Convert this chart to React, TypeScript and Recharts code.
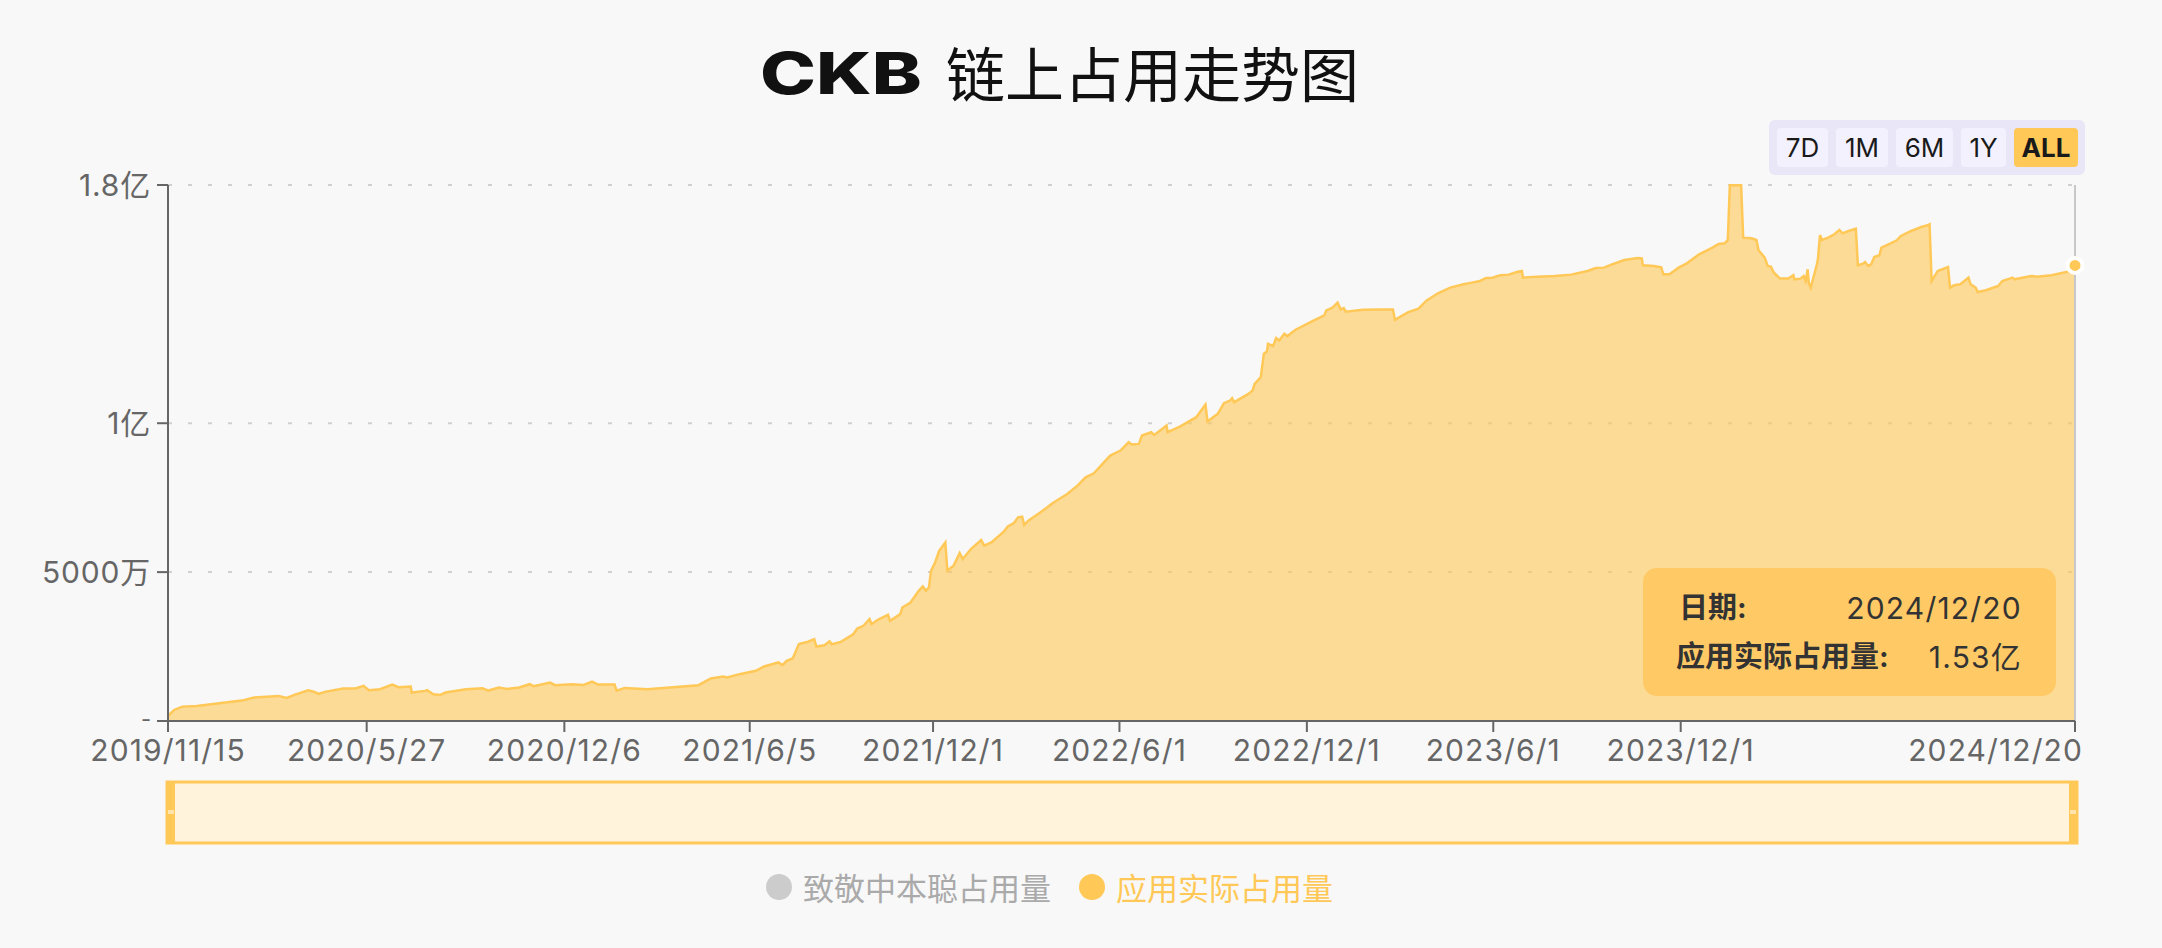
import {
  Area,
  AreaChart,
  Brush,
  CartesianGrid,
  Legend,
  ReferenceDot,
  ReferenceLine,
  XAxis,
  YAxis,
} from 'recharts';

// daily on-chain occupation, sampled at the turning points, value in 万 (1e4)
const dates = [
  '2019/11/15', '2019/11/21', '2019/11/29', '2019/12/13', '2019/12/25',
  '2020/1/10', '2020/1/26', '2020/2/7', '2020/3/2', '2020/3/10', '2020/3/18', '2020/3/31', '2020/4/6', '2020/4/10',
  '2020/4/16', '2020/5/4', '2020/5/16', '2020/5/24', '2020/5/29', '2020/6/9', '2020/6/21', '2020/6/27', '2020/7/9',
  '2020/7/10', '2020/7/23', '2020/7/25', '2020/7/31', '2020/8/7', '2020/8/12', '2020/9/1', '2020/9/17', '2020/9/23',
  '2020/10/3', '2020/10/11', '2020/10/23', '2020/11/2', '2020/11/6', '2020/11/22', '2020/11/27', '2020/12/13', '2020/12/25',
  '2021/1/2', '2021/1/8', '2021/1/24', '2021/1/26', '2021/2/3', '2021/2/25', '2021/3/19', '2021/4/16', '2021/4/28',
  '2021/5/10', '2021/5/14', '2021/5/26', '2021/6/11', '2021/6/19', '2021/7/3', '2021/7/7', '2021/7/11', '2021/7/17',
  '2021/7/23', '2021/8/1', '2021/8/7', '2021/8/9', '2021/8/17', '2021/8/22', '2021/8/24', '2021/9/2', '2021/9/14',
  '2021/9/18', '2021/9/24', '2021/9/30', '2021/10/2', '2021/10/8', '2021/10/18', '2021/10/20', '2021/10/30', '2021/11/1',
  '2021/11/9', '2021/11/17', '2021/11/21', '2021/11/24', '2021/11/27', '2021/11/29', '2021/12/3', '2021/12/7', '2021/12/13',
  '2021/12/15', '2021/12/21', '2021/12/27', '2021/12/30',
  '2022/1/7', '2022/1/17', '2022/1/20', '2022/1/27', '2022/2/8', '2022/2/12', '2022/2/18', '2022/2/22', '2022/2/26',
  '2022/2/28', '2022/3/4', '2022/3/16', '2022/3/28', '2022/4/11', '2022/4/21', '2022/4/29', '2022/5/7', '2022/5/23',
  '2022/6/2', '2022/6/10', '2022/6/13', '2022/6/20', '2022/6/23', '2022/7/2', '2022/7/5', '2022/7/17', '2022/7/18',
  '2022/7/30', '2022/8/15', '2022/8/24', '2022/8/26', '2022/9/5', '2022/9/11', '2022/9/17', '2022/9/19', '2022/9/21',
  '2022/10/5', '2022/10/9', '2022/10/11', '2022/10/17', '2022/10/20', '2022/10/23', '2022/10/24', '2022/10/29', '2022/11/1',
  '2022/11/4', '2022/11/9', '2022/11/12', '2022/11/20', '2022/12/6', '2022/12/18', '2022/12/20', '2022/12/26', '2022/12/31',
  '2023/1/3', '2023/1/6', '2023/1/8', '2023/1/25', '2023/2/10', '2023/2/23', '2023/2/25', '2023/3/10', '2023/3/20',
  '2023/3/28', '2023/4/8', '2023/4/20', '2023/5/3', '2023/5/11', '2023/5/19', '2023/5/25', '2023/5/31', '2023/6/8',
  '2023/6/16', '2023/6/24', '2023/6/29', '2023/6/30', '2023/7/14', '2023/7/31', '2023/8/16', '2023/9/1', '2023/9/9',
  '2023/9/17', '2023/9/25', '2023/10/7', '2023/10/20', '2023/10/24', '2023/10/25', '2023/11/5', '2023/11/12', '2023/11/14',
  '2023/11/20', '2023/11/29', '2023/12/7', '2023/12/19',
  '2024/1/1', '2024/1/7', '2024/1/13', '2024/1/16', '2024/1/18', '2024/1/29', '2024/1/31', '2024/2/8', '2024/2/13',
  '2024/2/15', '2024/2/21', '2024/2/24', '2024/2/27', '2024/3/1', '2024/3/7', '2024/3/15', '2024/3/20', '2024/3/21',
  '2024/3/27', '2024/3/30', '2024/4/1', '2024/4/3', '2024/4/4', '2024/4/6', '2024/4/9', '2024/4/12', '2024/4/13',
  '2024/4/15', '2024/4/17', '2024/4/23', '2024/4/29', '2024/5/4', '2024/5/7', '2024/5/13', '2024/5/20', '2024/5/22',
  '2024/5/27', '2024/5/29', '2024/6/1', '2024/6/4', '2024/6/7', '2024/6/12', '2024/6/14', '2024/6/23', '2024/6/29',
  '2024/7/3', '2024/7/13', '2024/7/23', '2024/7/29', '2024/7/31', '2024/8/2', '2024/8/8', '2024/8/18', '2024/8/20',
  '2024/8/24', '2024/8/30', '2024/9/3', '2024/9/7', '2024/9/9', '2024/9/14', '2024/9/16', '2024/9/24', '2024/10/6',
  '2024/10/10', '2024/10/20', '2024/10/22', '2024/11/7', '2024/11/13', '2024/11/27', '2024/12/14', '2024/12/20',
];

const usage = [
  169, 371, 483, 506, 551,
  618, 685, 787, 843, 775, 888, 1034, 978, 910,
  978, 1090, 1090, 1180, 1034, 1067, 1225, 1135, 1157,
  955, 1011, 1034, 899, 876, 955, 1067, 1101, 1022,
  1124, 1079, 1124, 1236, 1169, 1292, 1202, 1236, 1213,
  1326, 1225, 1225, 1022, 1112, 1067, 1124, 1202, 1427,
  1494, 1461, 1573, 1685, 1831, 1966, 1876, 2022, 2101,
  2584, 2663, 2747, 2500, 2545, 2680, 2579, 2657, 2915,
  3106, 3196, 3420, 3252, 3397, 3565, 3364, 3588, 3812,
  3980, 4373, 4518, 4373, 4485, 5045, 5325, 5718, 5998,
  5045, 5213, 5639, 5438,
  5774, 6076, 5886, 5998, 6357, 6536, 6648, 6839, 6861,
  6581, 6727, 7007, 7321, 7623, 7904, 8184, 8318, 8913,
  9081, 9361, 9283, 9305, 9585, 9697, 9608, 9922, 9697,
  9888, 10202, 10628, 10056, 10314, 10673, 10762, 10841, 10706,
  10986, 11099, 11323, 11547, 12332, 12410, 12668, 12590, 12859,
  12780, 13004, 12926, 13139, 13419, 13621, 13789, 13879, 14047,
  13823, 13867, 13744, 13811, 13823, 13823, 13475, 13733, 13845,
  14125, 14363, 14553, 14665, 14721, 14777, 14878, 14889, 14968,
  14990, 15079, 15113, 14889, 14923, 14945, 14990, 15113, 15214,
  15225, 15337, 15482, 15549, 15538, 15303, 15281, 15236, 15001,
  15001, 15225, 15370, 15672,
  15896, 16019, 16042, 16154, 17990, 17990, 16232, 16210, 16154,
  15807, 15561, 15281, 15259, 15057, 14856, 14856, 14968, 14833,
  14856, 14945, 14777, 15169, 14721, 14553, 14945, 15337, 15505,
  16321, 16154, 16232, 16344, 16489, 16377, 16456, 16534, 15303,
  15359, 15415, 15281, 15337, 15583, 15639, 15896, 16042, 16142,
  16288, 16456, 16590, 16646, 16680, 14777, 15113, 15247, 14553,
  14632, 14665, 14777, 14889, 14665, 14553, 14408, 14464, 14609,
  14777, 14889, 14833, 14945, 14923, 14968, 15100, 15300,
];

const xTickDates = [
  '2019/11/15', '2020/5/27', '2020/12/6', '2021/6/5', '2021/12/1',
  '2022/6/1', '2022/12/1', '2023/6/1', '2023/12/1', '2024/12/20',
];
const yTicks = [0, 5000, 10000, 18000];
const seriesNames = ['致敬中本聪占用量', '应用实际占用量'];
const ranges = ['7D', '1M', '6M', '1Y', 'ALL'];

const FONT = 'Inter, "Noto Sans CJK SC", sans-serif';
const CJK = '"Noto Sans CJK SC", sans-serif';
const YELLOW = '#FFC857';

const toTs = (s: string) => {
  const [y, m, d] = s.split('/').map(Number);
  return Date.UTC(y, m - 1, d);
};
const fmtDate = (ts: number) => {
  const d = new Date(ts);
  return `${d.getUTCFullYear()}/${d.getUTCMonth() + 1}/${d.getUTCDate()}`;
};
const fmtWan = (v: number) => {
  if (v === 0) return '-';
  if (v < 10000) return `${v}万`;
  return `${+(v / 10000).toFixed(2)}亿`;
};

const data = dates.map((d, i) => ({ ts: toTs(d), date: d, usage: usage[i] }));
const last = data[data.length - 1];
const xTicks = xTickDates.map(toTs);

function DateTick(props: any) {
  const { x, y, payload } = props;
  const isLast = payload.value === last.ts;
  return (
    <text
      x={isLast ? x + 8 : x}
      y={y}
      dy="0.71em"
      textAnchor={isLast ? 'end' : 'middle'}
      fill="#666"
      fontSize={30}
      letterSpacing={1.1}
      fontFamily={FONT}
    >
      {fmtDate(payload.value)}
    </text>
  );
}

function ValueTick(props: any) {
  const { x, y, payload } = props;
  const zero = payload.value === 0;
  return (
    <text
      x={x}
      y={zero ? y - 2 : y}
      dy="0.355em"
      textAnchor="end"
      fill="#666"
      fontSize={zero ? 22 : 30}
      letterSpacing={zero ? 0 : 0.8}
      fontFamily={FONT}
    >
      {fmtWan(payload.value)}
    </text>
  );
}

function LegendRow() {
  return (
    <div style={{ display: 'flex', alignItems: 'center', height: 40, paddingLeft: 766, fontFamily: CJK, fontSize: 31 }}>
      {seriesNames.map((name, i) => {
        const on = i === 1;
        return (
          <div key={name} style={{ display: 'flex', alignItems: 'center', marginRight: 28 }}>
            <span
              style={{ width: 26, height: 26, borderRadius: 13, background: on ? YELLOW : '#ccc', marginRight: 11 }}
            />
            <span style={{ color: on ? YELLOW : '#aaa', lineHeight: '40px' }}>{name}</span>
          </div>
        );
      })}
    </div>
  );
}

const buttonBoxes = [
  { left: 1777, width: 51 },
  { left: 1836, width: 52 },
  { left: 1896, width: 57 },
  { left: 1961, width: 45 },
  { left: 2014, width: 64 },
];

export default function App() {
  return (
    <div style={{ position: 'fixed', left: 0, top: 0, width: 2162, height: 948, background: '#f8f8f8', overflow: 'hidden' }}>
      <style>{'.recharts-brush > rect:first-child{stroke-width:3px}'}</style>

      <span
        style={{
          position: 'absolute',
          left: 760,
          top: 44,
          fontFamily: 'Inter, sans-serif',
          fontWeight: 800,
          fontSize: 58,
          lineHeight: '58px',
          color: '#111',
          transform: 'scaleX(1.3)',
          transformOrigin: 'left center',
          zIndex: 2,
        }}
      >
        CKB
      </span>
      <span
        style={{
          position: 'absolute',
          left: 946,
          top: 43,
          fontFamily: CJK,
          fontSize: 59,
          lineHeight: '58px',
          color: '#111',
          zIndex: 2,
        }}
      >
        链上占用走势图
      </span>

      <div
        style={{
          position: 'absolute',
          left: 1769,
          top: 120,
          width: 316,
          height: 55,
          background: '#E8E6F7',
          borderRadius: 6,
          zIndex: 2,
        }}
      />
      {ranges.map((r, i) => (
        <div
          key={r}
          style={{
            position: 'absolute',
            left: buttonBoxes[i].left,
            top: 128,
            width: buttonBoxes[i].width,
            height: 39,
            borderRadius: 4,
            background: r === 'ALL' ? YELLOW : '#F3F1FD',
            fontFamily: FONT,
            fontSize: 26,
            fontWeight: r === 'ALL' ? 700 : 400,
            color: '#1a1a1a',
            lineHeight: '39px',
            textAlign: 'center',
            zIndex: 3,
          }}
        >
          {r}
        </div>
      ))}

      <div style={{ position: 'absolute', left: 0, top: 0 }}>
        <AreaChart width={2162} height={948} data={data} margin={{ top: 185, right: 87, bottom: 86, left: 0 }}>
          <CartesianGrid vertical={false} stroke="#d0d0d0" strokeWidth={2} strokeDasharray="4 16" />
          <XAxis
            dataKey="ts"
            type="number"
            domain={[data[0].ts, last.ts]}
            ticks={xTicks}
            interval={0}
            height={40}
            tickSize={11}
            tickMargin={8}
            axisLine={{ stroke: '#666', strokeWidth: 2 }}
            tickLine={{ stroke: '#666', strokeWidth: 2 }}
            tick={<DateTick />}
          />
          <YAxis
            width={168}
            domain={[0, 18000]}
            ticks={yTicks}
            interval={0}
            tickSize={11}
            tickMargin={6}
            axisLine={{ stroke: '#666', strokeWidth: 2 }}
            tickLine={{ stroke: '#666', strokeWidth: 2 }}
            tick={<ValueTick />}
          />
          <ReferenceLine x={last.ts} stroke="#c8c8c8" strokeWidth={2} />
          <Area
            type="linear"
            dataKey="usage"
            name={seriesNames[1]}
            stroke={YELLOW}
            strokeWidth={2.5}
            fill={YELLOW}
            fillOpacity={0.6}
            dot={false}
            activeDot={false}
            isAnimationActive={false}
          />
          <ReferenceDot x={last.ts} y={last.usage} r={7.5} fill={YELLOW} stroke="#fff" strokeWidth={4} />
          <Brush
            dataKey="ts"
            x={167}
            y={782}
            width={1910}
            height={61}
            stroke={YELLOW}
            fill="#fffefd"
            travellerWidth={8}
            tickFormatter={() => ''}
          />
          <Legend
            content={<LegendRow />}
            wrapperStyle={{ top: 867, bottom: 'auto', left: 0, width: 2162, height: 40 }}
          />
        </AreaChart>
      </div>

      <div
        style={{
          position: 'absolute',
          left: 1643,
          top: 568,
          width: 413,
          height: 128,
          borderRadius: 14,
          background: '#FFCA66',
          fontFamily: FONT,
          fontSize: 29,
          color: '#333',
          zIndex: 2,
        }}
      >
        <div style={{ position: 'absolute', left: 36, right: 34, top: 22, lineHeight: '36px', display: 'flex', justifyContent: 'space-between' }}>
          <span style={{ fontWeight: 700 }}>日期:</span>
          <span style={{ fontSize: 30, letterSpacing: 1.2 }}>{last.date}</span>
        </div>
        <div style={{ position: 'absolute', left: 33, right: 34, top: 71, lineHeight: '36px', display: 'flex', justifyContent: 'space-between' }}>
          <span style={{ fontWeight: 700 }}>{seriesNames[1]}:</span>
          <span style={{ fontSize: 30, letterSpacing: 1.2 }}>{fmtWan(last.usage)}</span>
        </div>
      </div>
    </div>
  );
}
